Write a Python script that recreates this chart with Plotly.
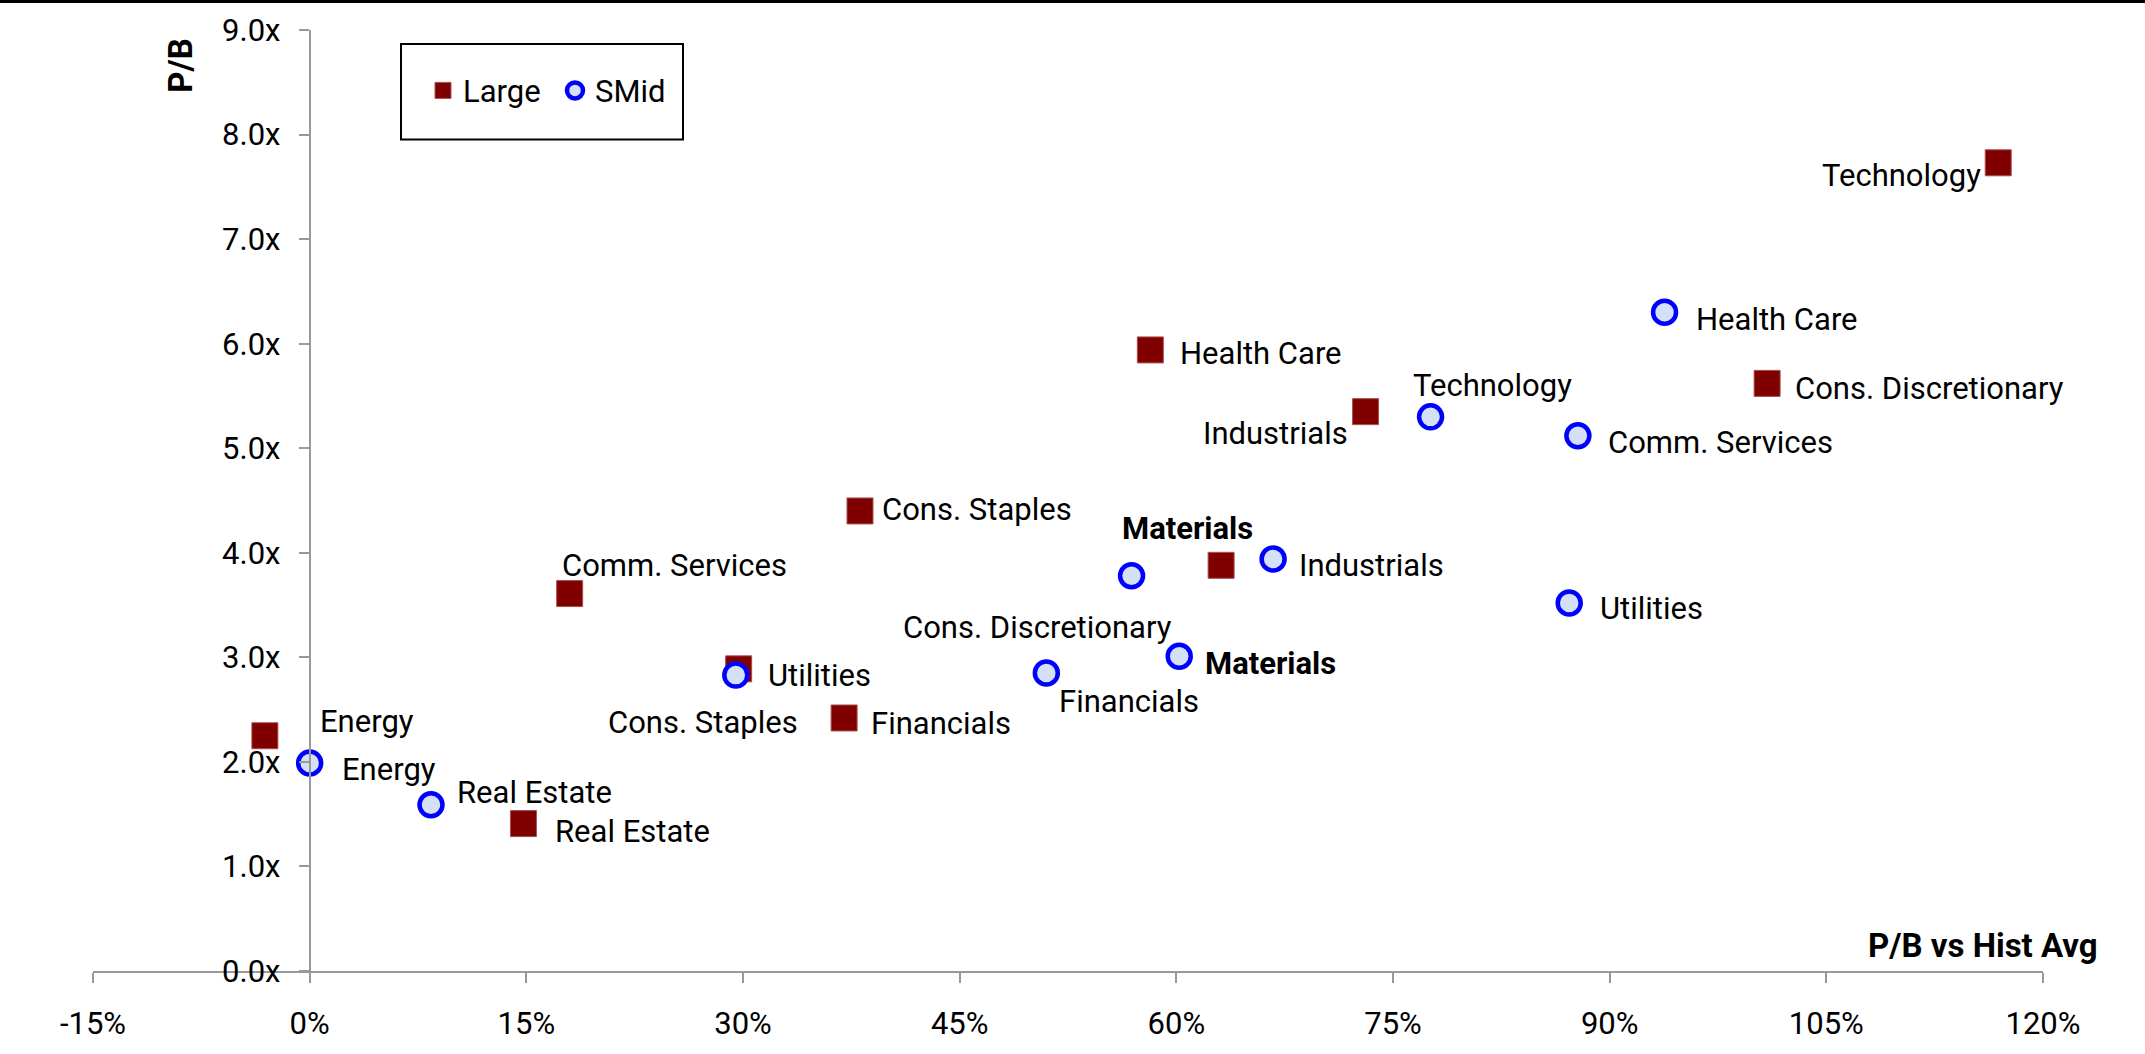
import plotly.graph_objects as go

# ---------------- data ----------------
large_labels = ["Technology", "Health Care", "Cons. Discretionary", "Industrials", "Cons. Staples",
                "Materials", "Comm. Services", "Utilities", "Financials", "Energy", "Real Estate"]
large_x = [116.9, 58.2, 100.9, 73.1, 38.1, 63.1, 18.0, 29.7, 37.0, -3.1, 14.8]
large_y = [7.73, 5.94, 5.62, 5.35, 4.40, 3.88, 3.61, 2.89, 2.42, 2.25, 1.41]

smid_labels = ["Health Care", "Technology", "Comm. Services", "Industrials", "Cons. Discretionary",
               "Utilities", "Materials", "Financials", "Cons. Staples", "Energy", "Real Estate"]
smid_x = [93.8, 77.6, 87.8, 66.7, 56.9, 87.2, 60.2, 51.0, 29.5, 0.0, 8.4]
smid_y = [6.30, 5.30, 5.12, 3.94, 3.78, 3.52, 3.01, 2.85, 2.83, 1.99, 1.59]

x_ticks = [-15, 0, 15, 30, 45, 60, 75, 90, 105, 120]
x_ticktext = ["-15%", "0%", "15%", "30%", "45%", "60%", "75%", "90%", "105%", "120%"]
y_ticks = [0, 1, 2, 3, 4, 5, 6, 7, 8, 9]
y_ticktext = ["0.0x", "1.0x", "2.0x", "3.0x", "4.0x", "5.0x", "6.0x", "7.0x", "8.0x", "9.0x"]

# ---------------- label placement (style) ----------------
# (xanchor, xshift px, yshift px, bold)
large_pos = [("right", -15, -13, False), ("left", 28, -4, False), ("left", 26, -5, False),
             ("right", -16, -22, False), ("left", 20, 1, False), ("center", -34, 37, True),
             ("left", -10, 28, False), ("left", 27, -7, False), ("left", 25, -6, False),
             ("left", 53, 14, False), ("left", 30, -8, False)]
smid_pos = [("left", 29, -7, False), ("center", 62, 31, False), ("left", 28, -7, False),
            ("left", 24, -6, False), ("center", -94, -52, False), ("left", 29, -6, False),
            ("left", 24, -7, True), ("left", 11, -28, False), ("center", -33, -47, False),
            ("left", 30, -7, False), ("left", 24, 12, False)]

FONT = "Roboto, Liberation Sans, Arial, sans-serif"
FS = 31

W, H = 2145, 1054
ML, MR, MT, MB = 93, 102, 30, 79
pw, ph = W - ML - MR, H - MT - MB


def px2paper(px, py):
    return (px - ML) / pw, (H - MB - py) / ph


fig = go.Figure()
fig.add_trace(go.Scatter(
    x=large_x, y=large_y, mode="markers", name="Large",
    marker=dict(symbol="square", size=26, color="#800000", line=dict(color="#a85050", width=1)),
))
fig.add_trace(go.Scatter(
    x=smid_x, y=smid_y, mode="markers", name="SMid",
    marker=dict(symbol="circle", size=23, color="#d3e0f5", line=dict(color="#0000ff", width=4.5)),
))

annotations = []
for labels, xs, ys, pos in ((large_labels, large_x, large_y, large_pos),
                            (smid_labels, smid_x, smid_y, smid_pos)):
    for lab, xv, yv, (xa, dx, dy, bold) in zip(labels, xs, ys, pos):
        annotations.append(dict(
            x=xv, y=yv, xref="x", yref="y", text=f"<b>{lab}</b>" if bold else lab,
            showarrow=False, xanchor=xa, yanchor="middle", xshift=dx, yshift=dy,
            font=dict(family=FONT, size=FS, color="black"),
        ))

# axis titles
ax, ay = px2paper(181, 66)
annotations.append(dict(x=ax, y=ay, xref="paper", yref="paper", text="<b>P/B</b>", showarrow=False,
                        textangle=-90, xanchor="center", yanchor="middle",
                        font=dict(family=FONT, size=33, color="black")))
annotations.append(dict(x=px2paper(2100, 0)[0], y=0.004, xref="paper", yref="paper",
                        text="<b>P/B vs Hist Avg</b>", showarrow=False, xanchor="right",
                        yanchor="bottom", font=dict(family=FONT, size=33, color="black")))

lx0, ly0 = px2paper(401, 140)
lx1, ly1 = px2paper(683, 44)
tx, ty = px2paper(0, 1)

fig.update_layout(
    width=W, height=H, autosize=False,
    margin=dict(l=ML, r=MR, t=MT, b=MB, pad=0),
    paper_bgcolor="white", plot_bgcolor="white",
    font=dict(family=FONT, size=FS, color="black"),
    showlegend=True,
    legend=dict(orientation="h", x=px2paper(423, 0)[0], y=px2paper(0, 91)[1], xanchor="left",
                yanchor="middle", bgcolor="rgba(0,0,0,0)", borderwidth=0,
                font=dict(family=FONT, size=FS, color="black"), itemwidth=30,
                entrywidth=87, entrywidthmode="pixels", tracegroupgap=0),
    annotations=annotations,
    shapes=[
        dict(type="rect", xref="paper", yref="paper", x0=lx0, y0=ly0, x1=lx1, y1=ly1,
             line=dict(color="black", width=2), fillcolor="rgba(0,0,0,0)", layer="below"),
        dict(type="line", xref="paper", yref="paper", x0=-ML / pw, x1=1 + MR / pw, y0=ty, y1=ty,
             line=dict(color="black", width=4)),
    ],
    xaxis=dict(
        range=[-15, 120], tickmode="array", tickvals=x_ticks, ticktext=x_ticktext,
        showgrid=False, zeroline=False,
        showline=True, linecolor="#999999", linewidth=2, ticks="outside", ticklen=10,
        tickcolor="#999999", tickwidth=2, tickfont=dict(family=FONT, size=FS, color="black"),
        ticklabelstandoff=14, anchor="y", fixedrange=True,
    ),
    yaxis=dict(
        range=[0, 9], tickmode="array", tickvals=y_ticks, ticktext=y_ticktext, showgrid=False,
        zeroline=False, showline=True, linecolor="#999999", linewidth=2, ticks="outside",
        ticklen=10, tickcolor="#999999", tickwidth=2,
        tickfont=dict(family=FONT, size=FS, color="black"), anchor="free", position=15 / 135,
        ticklabelstandoff=12, fixedrange=True,
    ),
)

fig.write_html("out.html", config={"displayModeBar": False},
               post_script="document.body.style.margin='0';")
